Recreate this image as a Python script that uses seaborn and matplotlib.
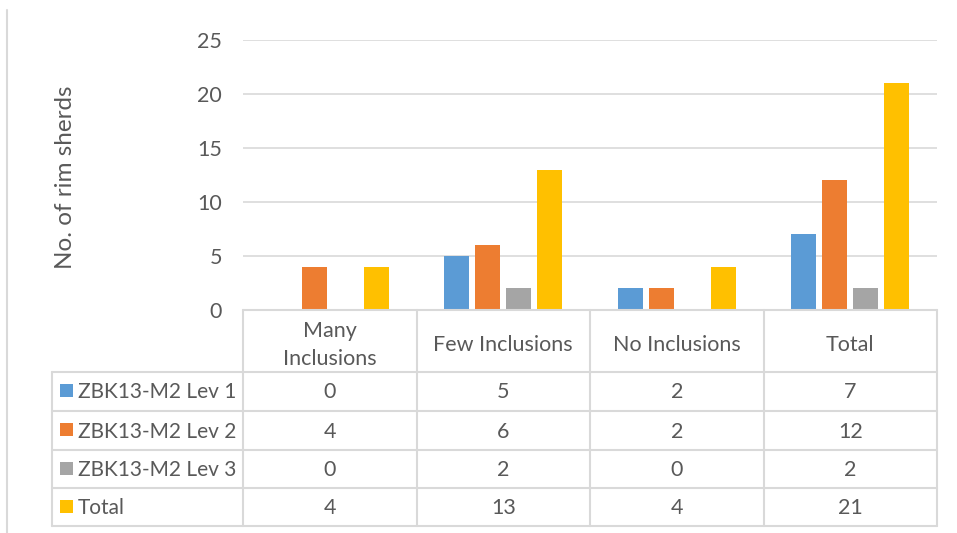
import matplotlib
matplotlib.use("Agg")
import matplotlib.pyplot as plt
from matplotlib.lines import Line2D
from matplotlib.patches import Rectangle
import seaborn as sns
import pandas as pd

# Categories and series
categories = ["Many\nInclusions", "Few Inclusions", "No Inclusions", "Total"]
series_names = ["ZBK13-M2 Lev 1", "ZBK13-M2 Lev 2", "ZBK13-M2 Lev 3", "Total"]
lev1 = [0, 5, 2, 7]
lev2 = [4, 6, 2, 12]
lev3 = [0, 2, 0, 2]
total = [4, 13, 4, 21]
y_ticks = [0, 5, 10, 15, 20, 25]
y_label = "No. of rim sherds"

colors = ["#5B9BD5", "#ED7D31", "#A5A5A5", "#FFC000"]
text_color = "#595959"
line_color = "#D9D9D9"

series_values = [lev1, lev2, lev3, total]
rows = []
for name, vals in zip(series_names, series_values):
    for cat, v in zip(categories, vals):
        rows.append({"category": cat, "series": name, "value": v})
df = pd.DataFrame(rows)

sns.set_theme(style="white")
plt.rcParams["font.family"] = ["Lato", "DejaVu Sans"]

W, H = 957, 533
fig = plt.figure(figsize=(W / 100, H / 100), dpi=100)

# plot area in pixel coordinates
left, right, top, bottom = 243, 937, 40, 310
ax = fig.add_axes([left / W, 1 - bottom / H, (right - left) / W, (bottom - top) / H])

sns.barplot(data=df, x="category", y="value", hue="series", hue_order=series_names,
            palette=colors, width=0.716, gap=0.2, ax=ax, legend=False,
            saturation=1, edgecolor="none", linewidth=0)

ax.set_ylim(0, 25)
ax.set_xlim(-0.5, len(categories) - 0.5)
ax.set_yticks(y_ticks)
ax.set_yticklabels([str(t) for t in y_ticks], fontsize=15.5, color=text_color)
ax.tick_params(axis="y", length=0, pad=15)
ax.set_xticks([])
ax.set_xlabel("")
ax.set_ylabel("")
for s in ax.spines.values():
    s.set_visible(False)
for t in y_ticks[1:]:
    ax.axhline(t, color=line_color, lw=1.2, zorder=0)
ax.set_axisbelow(True)

fig.text(65 / W, 1 - 177 / H, y_label, rotation=90, ha="center", va="center",
         fontsize=17.5, color=text_color)

# overlay in pixel coordinates for the data table
ov = fig.add_axes([0, 0, 1, 1])
ov.set_xlim(0, W)
ov.set_ylim(H, 0)
ov.axis("off")
ov.patch.set_alpha(0)

row_y = [372, 411, 450, 488, 526]
table_left = 52
col_w = (right - left) / len(categories)
col_x = [left + i * col_w for i in range(len(categories) + 1)]
lw = 1.5

# horizontal lines
ov.add_line(Line2D([left, right], [bottom, bottom], color=line_color, lw=lw))
for y in row_y:
    ov.add_line(Line2D([table_left, right], [y, y], color=line_color, lw=lw))
# vertical lines
for x in col_x:
    ov.add_line(Line2D([x, x], [bottom, row_y[-1]], color=line_color, lw=lw))
ov.add_line(Line2D([table_left, table_left], [row_y[0], row_y[-1]], color=line_color, lw=lw))

# header text
for i, cat in enumerate(categories):
    cx = (col_x[i] + col_x[i + 1]) / 2
    ov.text(cx, (bottom + row_y[0]) / 2 + 4, cat, ha="center", va="center",
            fontsize=15.5, color=text_color, linespacing=1.45)

# rows
for r, (name, vals) in enumerate(zip(series_names, series_values)):
    y0, y1 = row_y[r], row_y[r + 1]
    cy = (y0 + y1) / 2 + 1
    ov.add_patch(Rectangle((60, y0 + 12), 13, 13, facecolor=colors[r], edgecolor="none"))
    ov.text(78, cy, name, ha="left", va="center", fontsize=15, color=text_color)
    for i, v in enumerate(vals):
        cx = (col_x[i] + col_x[i + 1]) / 2
        ov.text(cx, cy, str(v), ha="center", va="center", fontsize=15.5, color=text_color)

# chart frame edge at the left
ov.add_line(Line2D([7, 7], [10, H], color=line_color, lw=1.5))

fig.savefig("out.png", dpi=100)
